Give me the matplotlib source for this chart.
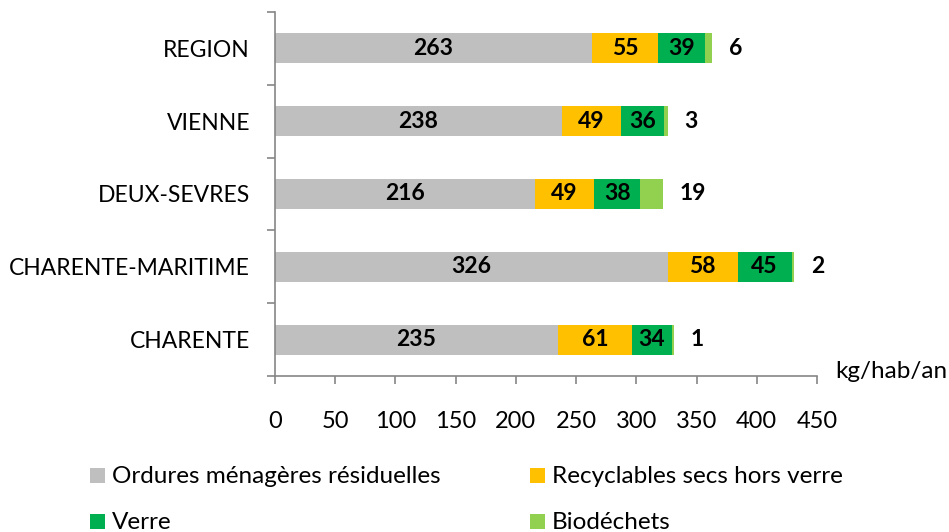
import matplotlib
matplotlib.use('Agg')
import matplotlib.pyplot as plt
import numpy as np

plt.rcParams['font.family'] = ['Lato', 'DejaVu Sans']

# data, bottom to top
categories = ['CHARENTE', 'CHARENTE-MARITIME', 'DEUX-SEVRES', 'VIENNE', 'REGION']
omr = [235, 326, 216, 238, 263]
recyclables = [61, 58, 49, 49, 55]
verre = [34, 45, 38, 36, 39]
biodechets = [1, 2, 19, 3, 6]

series_names = ['Ordures ménagères résiduelles', 'Recyclables secs hors verre',
                'Verre', 'Biodéchets']
colors = ['#BFBFBF', '#FFC000', '#00B050', '#92D050']
axis_color = '#868686'
fs = 16.5

W, H = 949, 532
fig = plt.figure(figsize=(W / 100, H / 100), dpi=100)
ax = fig.add_axes([275 / W, 1 - 376 / H, (817 - 275) / W, (376 - 12) / H])

y = np.arange(len(categories))
left = np.zeros(len(categories))
bars = []
for vals, color in zip([omr, recyclables, verre, biodechets], colors):
    b = ax.barh(y, vals, left=left, height=0.41, color=color, linewidth=0)
    bars.append(b)
    left = left + np.array(vals)

# labels inside the first three segments
for b, vals in zip(bars[:3], [omr, recyclables, verre]):
    for rect, v in zip(b, vals):
        ax.text(rect.get_x() + rect.get_width() / 2, rect.get_y() + rect.get_height() / 2,
                str(v), ha='center', va='center', fontsize=fs, fontweight='bold')

# biodechets labels to the right of the bar
for yi, tot, v in zip(y, left, biodechets):
    ax.text(tot + 14, yi, str(v), ha='left', va='center', fontsize=fs, fontweight='bold')

ax.set_xlim(0, 450)
ax.set_ylim(-0.5, len(categories) - 0.5)
ax.set_xticks(np.arange(0, 451, 50))
ax.set_yticks(y)
ax.set_yticklabels(categories)
ax.set_yticks(np.arange(-0.5, len(categories), 1), minor=True)
ax.tick_params(axis='y', which='major', length=0, pad=18, labelsize=fs)
ax.tick_params(axis='y', which='minor', length=6, color=axis_color, width=1.2)
ax.tick_params(axis='x', length=6, color=axis_color, width=1.2, pad=19, labelsize=17)

for side in ['top', 'right']:
    ax.spines[side].set_visible(False)
for side in ['left', 'bottom']:
    ax.spines[side].set_color(axis_color)
    ax.spines[side].set_linewidth(1.2)

fig.text(835 / W, 1 - 372 / H, 'kg/hab/an', fontsize=17.5, ha='left', va='center')

# legend: two rows, two columns, laid out by hand
leg_x = [90, 530]
leg_base = [483, 529]
box = 15
for i, (name, c) in enumerate(zip(series_names, colors)):
    col, row = i % 2, i // 2
    x0, yb = leg_x[col], leg_base[row]
    fig.patches.append(plt.Rectangle((x0 / W, 1 - yb / H), box / W, box / H,
                                     transform=fig.transFigure, color=c, linewidth=0))
    fig.text((x0 + box + 7) / W, 1 - yb / H, name, fontsize=17.5, ha='left', va='baseline')

fig.savefig('out.png', dpi=100)
